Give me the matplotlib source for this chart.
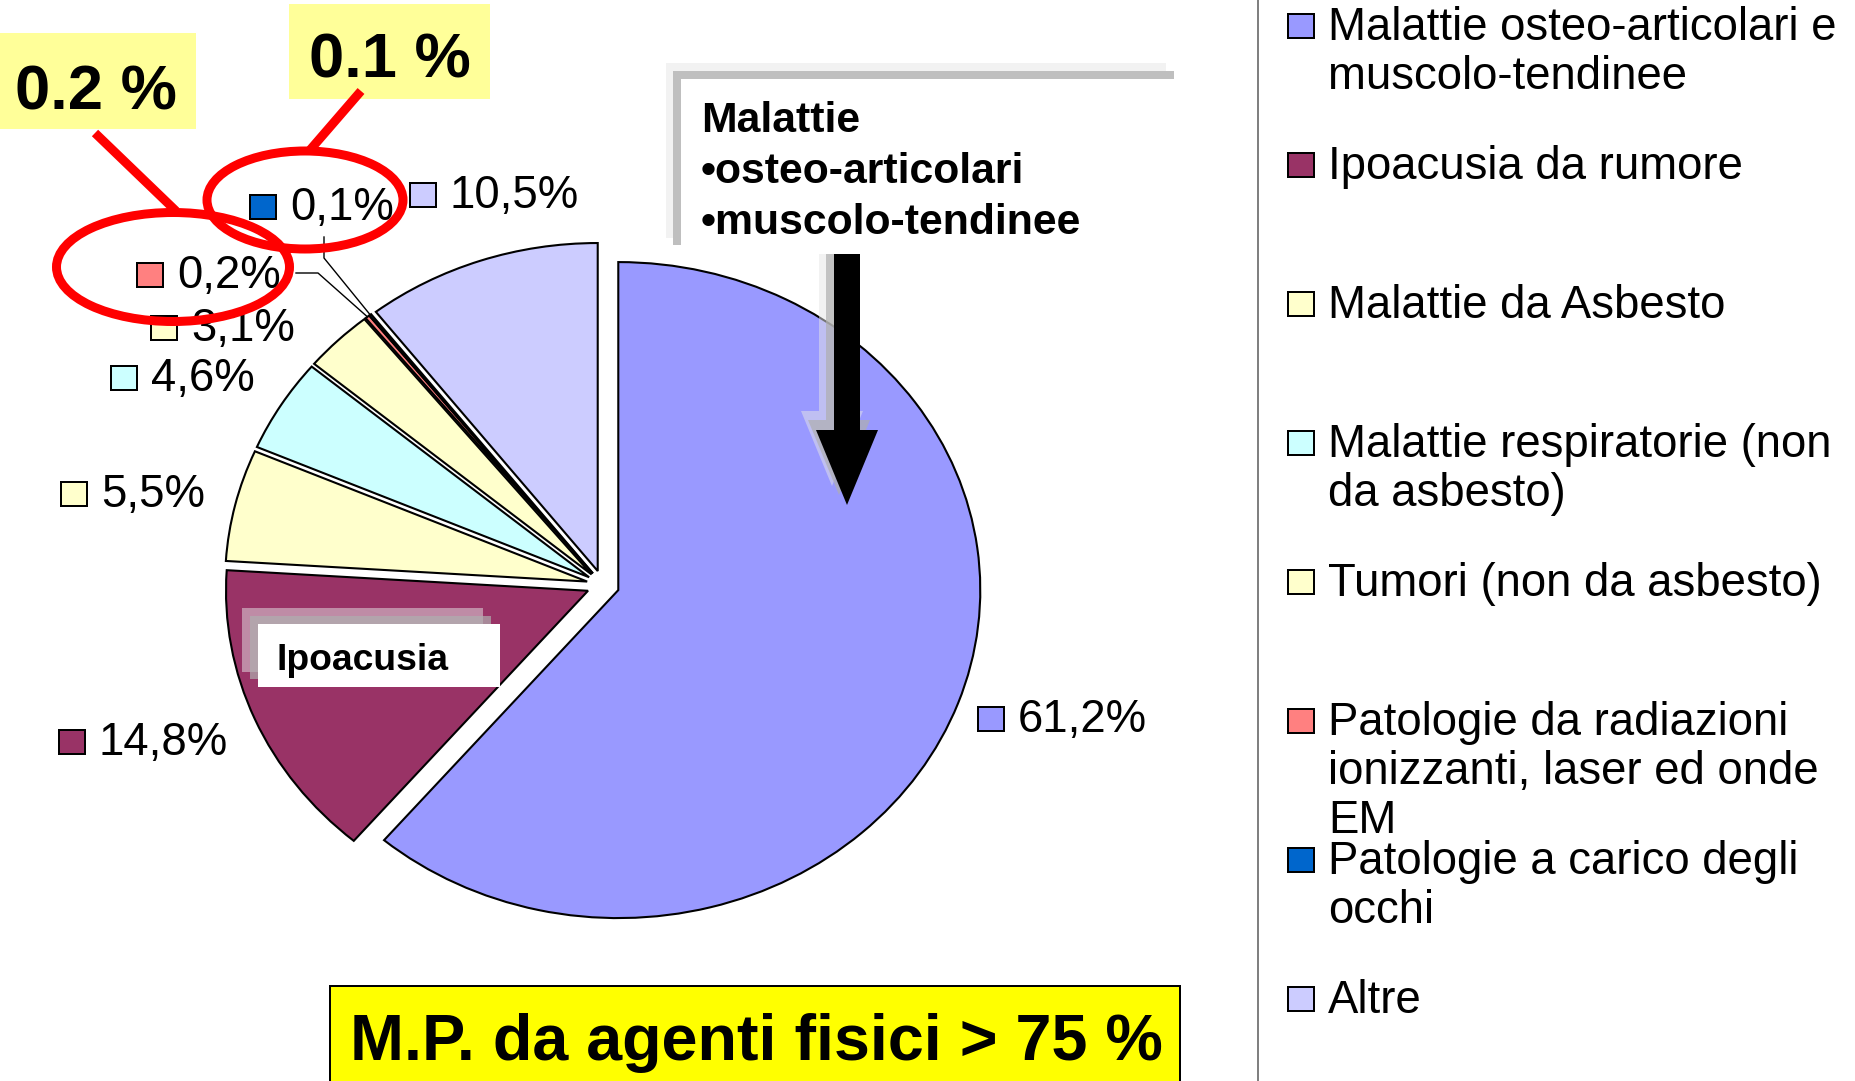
import matplotlib
matplotlib.use('Agg')
import matplotlib.pyplot as plt
from matplotlib.patches import Rectangle, Ellipse, Polygon
import numpy as np

plt.rcParams['font.family'] = ['Liberation Sans', 'DejaVu Sans']

# ---------------- data ----------------
categories = [
    "Malattie osteo-articolari e\nmuscolo-tendinee",
    "Ipoacusia da rumore",
    "Malattie da Asbesto",
    "Malattie respiratorie (non\nda asbesto)",
    "Tumori (non da asbesto)",
    "Patologie da radiazioni\nionizzanti, laser ed onde\nEM",
    "Patologie a carico degli\nocchi",
    "Altre",
]
values = [61.2, 14.8, 5.5, 4.6, 3.1, 0.2, 0.1, 10.5]
colors = ["#9999FF", "#993366", "#FFFFCC", "#CCFFFF", "#FFFFCC", "#FF8080", "#0066CC", "#CCCCFF"]
callout_lines = ["Malattie", "\u2022osteo-articolari", "\u2022muscolo-tendinee"]
highlight_texts = ["0.2 %", "0.1 %"]
slice_tag = "Ipoacusia"
summary_text = "M.P. da agenti fisici > 75 %"

# ---------------- layout ----------------
W, H = 1856, 1081
DPI = 100
PT = 72.0 / DPI          # points per pixel
CX, CY, RX, RY = 603, 585, 362, 328
EXP = 0.045

fig = plt.figure(figsize=(W / DPI, H / DPI), dpi=DPI)
fig.patch.set_facecolor('white')

ax = fig.add_axes([0, 0, 1, 1], zorder=0)
wedges, _ = ax.pie(values, colors=colors, startangle=90, counterclock=False,
                   explode=[EXP] * len(values),
                   wedgeprops=dict(edgecolor='black', linewidth=1.5))
ax.set_aspect('auto')
ax.set_xlim(-CX / RX, (W - CX) / RX)
ax.set_ylim(-(H - CY) / RY, CY / RY)
ax.axis('off')

ov = fig.add_axes([0, 0, 1, 1], zorder=1)
ov.set_xlim(0, W)
ov.set_ylim(H, 0)
ov.axis('off')

# separator line
ov.plot([1258, 1258], [0, H], color='#808080', lw=2 * PT, zorder=1)

# ---------------- arrow with shadows ----------------
ax_c = 847
def arrow_pts(dx, dy):
    x = ax_c + dx
    return [(x - 13, 254 + dy), (x + 13, 254 + dy), (x + 13, 430 + dy), (x + 31, 430 + dy),
            (x, 505 + dy), (x - 31, 430 + dy), (x - 13, 430 + dy)]
ov.add_patch(Polygon(arrow_pts(-15, -19), closed=True, fc='#E6E6E6', ec='none', alpha=0.5, zorder=2))
ov.add_patch(Polygon(arrow_pts(-8, -10), closed=True, fc='#AFAFAF', ec='none', alpha=0.7, zorder=2))
ov.add_patch(Polygon(arrow_pts(0, 0), closed=True, fc='black', ec='none', zorder=3))

# ---------------- callout box ----------------
ov.add_patch(Rectangle((666, 63), 500, 175, fc='#F2F2F2', ec='none', zorder=4))
ov.add_patch(Rectangle((673, 71), 501, 174, fc='#BFBFBF', ec='none', zorder=4))
ov.add_patch(Rectangle((681, 79), 501, 175, fc='white', ec='none', zorder=4))
for i, line in enumerate(callout_lines):
    ov.text(701, 132 + 51 * i, line, fontsize=30.8, fontweight='bold', va='baseline', ha='left', zorder=5)

# ---------------- Ipoacusia tag ----------------
ov.add_patch(Rectangle((242, 608), 241, 64, fc='#E6E6E6', ec='none', alpha=0.5, zorder=4))
ov.add_patch(Rectangle((250, 616), 241, 63, fc='#AFAFAF', ec='none', alpha=0.7, zorder=4))
ov.add_patch(Rectangle((258, 624), 242, 63, fc='white', ec='none', zorder=4))
ov.text(277, 670, slice_tag, fontsize=26.8, fontweight='bold', va='baseline', ha='left', zorder=5)

# ---------------- data labels ----------------
label_pos = [(991, 719), (72, 742), (74, 494), (124, 378), (164, 328), (150, 275), (263, 207), (423, 195)]
for v, c, (x, y) in zip(values, colors, label_pos):
    ov.add_patch(Rectangle((x - 13, y - 12), 26, 24, fc=c, ec='black', lw=2 * PT, zorder=6))
    ov.text(x + 27, y + 13, f"{v:.1f}".replace('.', ',') + "%", fontsize=32.8,
            va='baseline', ha='left', zorder=6)

# leader lines for the tiny slices
vals = np.array(values)
cum = np.cumsum(vals)
mid = np.deg2rad(90 - 3.6 * (cum - vals) - 1.8 * vals)
px = CX + (1 + EXP) * RX * np.cos(mid)
py = CY - (1 + EXP) * RY * np.sin(mid)
ov.plot([296, 318, px[5]], [273, 273, py[5]], color='black', lw=1.0, zorder=6)
ov.plot([324, 324, px[6]], [237, 258, py[6]], color='black', lw=1.0, zorder=6)

# ---------------- red highlights ----------------
ov.add_patch(Rectangle((0, 33), 196, 96, fc='#FFFF99', ec='none', zorder=7))
ov.add_patch(Rectangle((289, 4), 201, 95, fc='#FFFF99', ec='none', zorder=7))
ov.text(96, 109, highlight_texts[0], fontsize=45.5, fontweight='bold', ha='center', va='baseline', zorder=8)
ov.text(390, 78, highlight_texts[1], fontsize=45.5, fontweight='bold', ha='center', va='baseline', zorder=8)
ov.add_patch(Ellipse((173, 267), 233, 109, fc='none', ec='red', lw=9 * PT, zorder=9))
ov.add_patch(Ellipse((305, 200), 196, 98, fc='none', ec='red', lw=9 * PT, zorder=9))
ov.plot([95, 176], [133, 211], color='red', lw=9 * PT, solid_capstyle='butt', zorder=9)
ov.plot([361, 310], [91, 150], color='red', lw=9 * PT, solid_capstyle='butt', zorder=9)

# ---------------- legend ----------------
for i, (cat, c) in enumerate(zip(categories, colors)):
    yc = 26 + 139 * i
    ov.add_patch(Rectangle((1288, yc - 12), 26, 24, fc=c, ec='black', lw=2 * PT, zorder=6))
    for j, line in enumerate(cat.split("\n")):
        ov.text(1328, yc + 14 + 49 * j, line, fontsize=32.8, va='baseline', ha='left', zorder=6)

# ---------------- summary box ----------------
ov.add_patch(Rectangle((330, 986), 850, 130, fc='#FFFF00', ec='black', lw=2 * PT, zorder=6))
ov.text(756, 1060, summary_text, fontsize=46.5, fontweight='bold', ha='center', va='baseline', zorder=7)

fig.savefig('out.png', dpi=DPI, facecolor='white')
